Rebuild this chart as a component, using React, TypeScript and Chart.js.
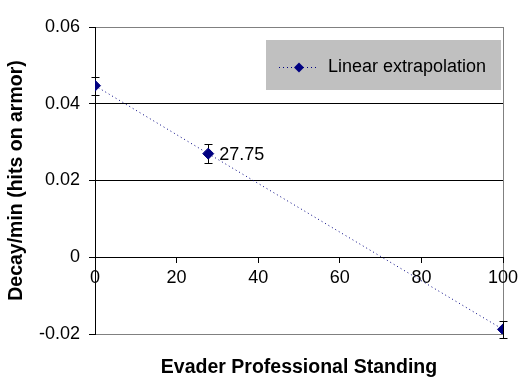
import React, { useEffect, useRef } from 'react';
import { Chart, registerables } from 'chart.js';

Chart.register(...registerables);

const seriesLabel = 'Linear extrapolation';
const xValues = [0, 27.75, 100];
const yValues = [0.0447, 0.027, -0.0188];
const yErrors = [0.0024, 0.0025, 0.0023];
const pointLabels = ['', '27.75', ''];
const yTicks = [-0.02, 0, 0.02, 0.04, 0.06];
const xTicks = [0, 20, 40, 60, 80, 100];
const xTitle = 'Evader Professional Standing';
const yTitle = 'Decay/min (hits on armor)';

const FONT = '"Liberation Sans", Arial, sans-serif';
const NAVY = '#000080';
const GRAY = '#808080';
const TEXT_SIZE = 18;
const TITLE_SIZE = 19.5;

const errorBarPlugin = {
  id: 'errorBars',
  beforeDatasetsDraw(chart: any) {
    const ctx = chart.ctx;
    const xs = chart.scales.x;
    const ys = chart.scales.y;
    ctx.save();
    ctx.strokeStyle = '#000000';
    ctx.lineWidth = 1;
    xValues.forEach((xv, i) => {
      const px = Math.round(xs.getPixelForValue(xv)) + 0.5;
      const top = Math.round(ys.getPixelForValue(yValues[i] + yErrors[i])) + 0.5;
      const bot = Math.round(ys.getPixelForValue(yValues[i] - yErrors[i])) + 0.5;
      ctx.beginPath();
      ctx.moveTo(px, top);
      ctx.lineTo(px, bot);
      ctx.moveTo(px - 4, top);
      ctx.lineTo(px + 4, top);
      ctx.moveTo(px - 4, bot);
      ctx.lineTo(px + 4, bot);
      ctx.stroke();
    });
    ctx.restore();
  },
};

const pointLabelPlugin = {
  id: 'pointLabels',
  afterDatasetsDraw(chart: any) {
    const ctx = chart.ctx;
    const meta = chart.getDatasetMeta(0);
    ctx.save();
    ctx.font = `${TEXT_SIZE}px ${FONT}`;
    ctx.fillStyle = '#000000';
    ctx.textAlign = 'left';
    ctx.textBaseline = 'middle';
    meta.data.forEach((pt: any, i: number) => {
      if (pointLabels[i]) ctx.fillText(pointLabels[i], pt.x + 11, pt.y + 1);
    });
    ctx.restore();
  },
};

const legendBoxPlugin = {
  id: 'legendBox',
  afterDraw(chart: any) {
    const ctx = chart.ctx;
    const area = chart.chartArea;
    const bx = area.right - 237;
    const by = area.top + 13;
    const bw = 235;
    const bh = 50;
    ctx.save();
    ctx.fillStyle = '#C0C0C0';
    ctx.fillRect(bx, by, bw, bh);
    const ly = Math.round(by + bh / 2 + 2) + 0.5;
    ctx.strokeStyle = NAVY;
    ctx.lineWidth = 1;
    ctx.setLineDash([1, 3]);
    ctx.beginPath();
    ctx.moveTo(bx + 13, ly);
    ctx.lineTo(bx + 52, ly);
    ctx.stroke();
    ctx.setLineDash([]);
    const cx = bx + 33;
    ctx.fillStyle = NAVY;
    ctx.beginPath();
    ctx.moveTo(cx - 5, ly);
    ctx.lineTo(cx, ly - 5);
    ctx.lineTo(cx + 5, ly);
    ctx.lineTo(cx, ly + 5);
    ctx.closePath();
    ctx.fill();
    ctx.font = `${TEXT_SIZE}px ${FONT}`;
    ctx.fillStyle = '#000000';
    ctx.textAlign = 'left';
    ctx.textBaseline = 'middle';
    ctx.fillText(chart.data.datasets[0].label, bx + 62, ly);
    ctx.restore();
  },
};

export default function App() {
  const ref = useRef<HTMLCanvasElement | null>(null);

  useEffect(() => {
    if (!ref.current) return;
    const chart = new Chart(ref.current, {
      type: 'line',
      data: {
        datasets: [
          {
            label: seriesLabel,
            data: xValues.map((x, i) => ({ x, y: yValues[i] })),
            borderColor: NAVY,
            backgroundColor: NAVY,
            borderWidth: 1,
            borderDash: [1, 3],
            pointStyle: 'rectRot',
            pointRadius: 5.5,
            pointBorderWidth: 1,
            pointBackgroundColor: NAVY,
            pointBorderColor: NAVY,
            tension: 0,
            fill: false,
          },
        ],
      },
      options: {
        animation: false,
        responsive: true,
        maintainAspectRatio: false,
        layout: { padding: { top: 27, right: 18, bottom: 0, left: 0 } },
        plugins: {
          legend: { display: false },
          tooltip: { enabled: false },
        },
        scales: {
          x: {
            type: 'linear',
            position: { y: 0 } as any,
            min: 0,
            max: 100,
            afterBuildTicks: (s: any) => {
              s.ticks = xTicks.map((v) => ({ value: v }));
            },
            afterFit: (s: any) => {
              s.paddingLeft = 0;
              s.paddingRight = 0;
            },
            border: { display: true, color: '#000000', width: 1 },
            grid: {
              color: (c: any) => (c.tick && c.tick.value === 100 ? GRAY : 'rgba(0,0,0,0)'),
              tickColor: '#000000',
              tickLength: 5,
              lineWidth: 1,
            },
            ticks: {
              color: '#000000',
              font: { family: FONT, size: TEXT_SIZE },
              padding: 5,
              maxRotation: 0,
              callback: (v: any) => String(v),
            },
          },
          x2: {
            type: 'linear',
            position: 'bottom',
            min: 0,
            max: 100,
            grid: { display: false },
            border: { display: false },
            ticks: { display: false },
            afterFit: (s: any) => {
              s.height = 51;
              s.paddingLeft = 0;
              s.paddingRight = 0;
            },
            title: {
              display: true,
              text: xTitle,
              color: '#000000',
              font: { family: FONT, size: TITLE_SIZE, weight: 'bold' },
              padding: { top: 0, bottom: 6 },
            },
          },
          y: {
            type: 'linear',
            position: 'left',
            min: -0.02,
            max: 0.06,
            afterBuildTicks: (s: any) => {
              s.ticks = yTicks.map((v) => ({ value: v }));
            },
            afterFit: (s: any) => {
              s.width = 95;
            },
            border: { display: true, color: '#000000', width: 1 },
            grid: {
              color: (c: any) =>
                c.tick && (c.tick.value === 0.06 || c.tick.value === -0.02) ? GRAY : '#000000',
              tickColor: '#000000',
              tickLength: 6,
              lineWidth: 1,
            },
            ticks: {
              color: '#000000',
              font: { family: FONT, size: TEXT_SIZE },
              padding: 9,
              callback: (v: any) => (v === 0 ? '0' : Number(v).toFixed(2)),
            },
            title: {
              display: true,
              text: yTitle,
              color: '#000000',
              font: { family: FONT, size: TITLE_SIZE, weight: 'bold' },
              padding: { top: 5, bottom: 0 },
            },
          },
        },
      },
      plugins: [errorBarPlugin, pointLabelPlugin, legendBoxPlugin],
    });
    return () => chart.destroy();
  }, []);

  return (
    <div style={{ position: 'fixed', left: 0, top: 0, width: 521, height: 385, background: '#ffffff' }}>
      <canvas ref={ref} />
    </div>
  );
}
